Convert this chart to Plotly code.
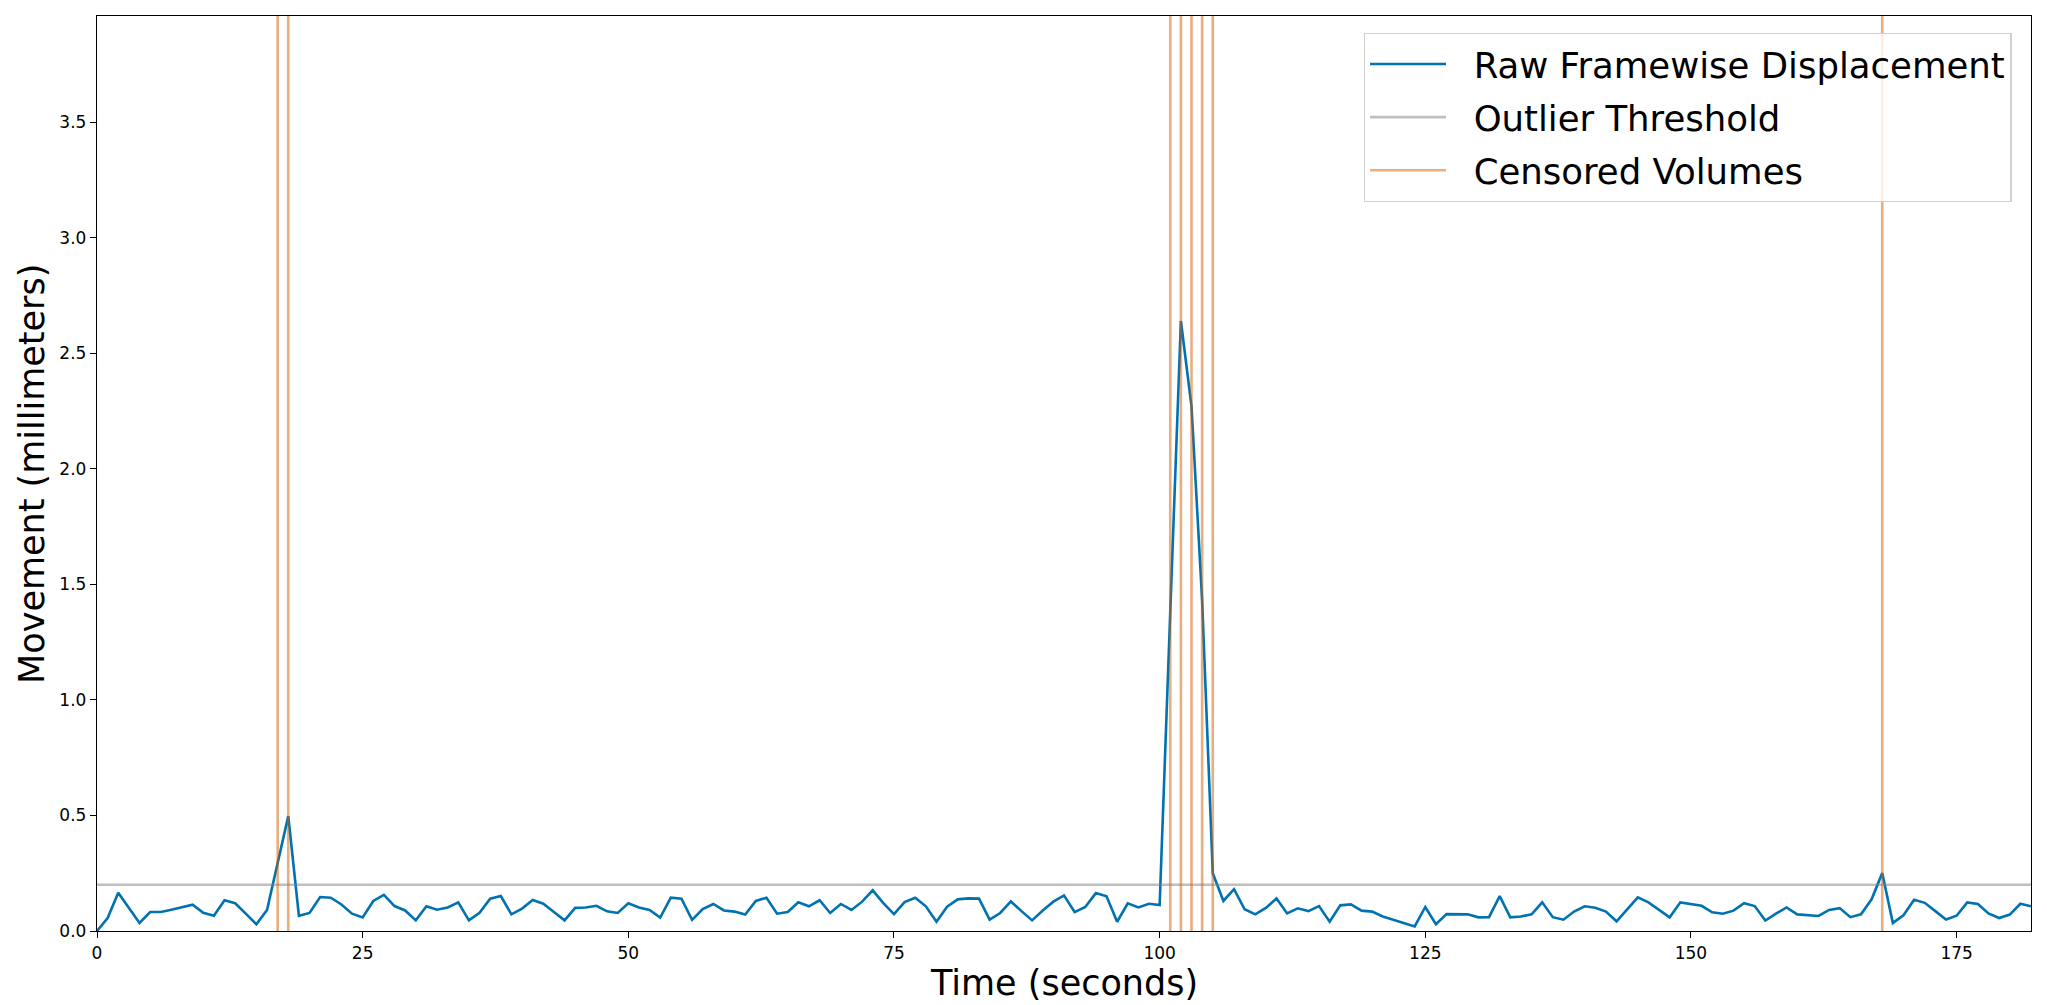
import plotly.graph_objects as go

# ---- data ----
time_seconds = list(range(183))
framewise_displacement = [
    0.0, 0.056, 0.166, 0.10, 0.035, 0.082, 0.082, 0.092, 0.104, 0.114,
    0.079, 0.066, 0.133, 0.12, 0.075, 0.029, 0.091, 0.30, 0.497, 0.066,
    0.078, 0.147, 0.144, 0.115, 0.075, 0.059, 0.13, 0.156, 0.108, 0.089,
    0.046, 0.107, 0.092, 0.102, 0.124, 0.046, 0.079, 0.14, 0.151, 0.072,
    0.097, 0.134, 0.118, 0.082, 0.046, 0.10, 0.102, 0.109, 0.085, 0.078,
    0.12, 0.102, 0.091, 0.058, 0.144, 0.14, 0.048, 0.095, 0.117, 0.089,
    0.084, 0.071, 0.13, 0.144, 0.075, 0.082, 0.124, 0.107, 0.133, 0.078,
    0.117, 0.091, 0.127, 0.176, 0.121, 0.073, 0.125, 0.144, 0.107, 0.04,
    0.105, 0.137, 0.141, 0.14, 0.049, 0.078, 0.128, 0.086, 0.046, 0.089,
    0.127, 0.154, 0.082, 0.104, 0.164, 0.15, 0.04, 0.12, 0.102, 0.118,
    0.112, 1.38, 2.64, 2.27, 1.43, 0.25, 0.13, 0.181, 0.094, 0.072,
    0.10, 0.141, 0.076, 0.098, 0.086, 0.108, 0.04, 0.111, 0.115, 0.088,
    0.084, 0.063, 0.049, 0.032, 0.02, 0.104, 0.029, 0.073, 0.071, 0.072,
    0.059, 0.06, 0.151, 0.059, 0.063, 0.072, 0.124, 0.06, 0.049, 0.084,
    0.107, 0.101, 0.084, 0.042, 0.094, 0.146, 0.124, 0.091, 0.059, 0.124,
    0.118, 0.109, 0.081, 0.075, 0.088, 0.12, 0.108, 0.045, 0.075, 0.102,
    0.072, 0.068, 0.065, 0.091, 0.099, 0.06, 0.072, 0.137, 0.251, 0.035,
    0.068, 0.135, 0.122, 0.086, 0.05, 0.066, 0.124, 0.117, 0.076, 0.056,
    0.071, 0.118, 0.107,
]
outlier_threshold = 0.2
censored_volumes = [17, 18, 101, 102, 103, 104, 105, 168]
x_ticks = [0, 25, 50, 75, 100, 125, 150, 175]
y_ticks = [0.0, 0.5, 1.0, 1.5, 2.0, 2.5, 3.0, 3.5]
series_names = ["Raw Framewise Displacement", "Outlier Threshold", "Censored Volumes"]

# ---- derived limits ----
x_min, x_max = time_seconds[0], time_seconds[-1]
y_max = max(framewise_displacement) * 1.5

FONT = "DejaVu Sans"
BLUE = "#0072B2"
ORANGE = "#D55E00"
GAP = "\u00a0\u00a0"  # extra space between legend handle and label

fig = go.Figure()

fig.add_trace(go.Scatter(
    x=time_seconds, y=framewise_displacement, mode="lines",
    name=GAP + series_names[0], legendgroup="fd",
    line=dict(color=BLUE, width=2.6),
))

fig.add_trace(go.Scatter(
    x=[x_min, x_max], y=[outlier_threshold, outlier_threshold], mode="lines",
    name=GAP + series_names[1], legendgroup="thr",
    line=dict(color="gray", width=2.6), opacity=0.5,
))

cx, cy = [], []
for v in censored_volumes:
    cx += [v, v, None]
    cy += [0, y_max, None]
fig.add_trace(go.Scatter(
    x=cx, y=cy, mode="lines", name=GAP + series_names[2], legendgroup="cens",
    line=dict(color=ORANGE, width=2.6), opacity=0.5,
))

axis_common = dict(
    showline=True, mirror=True, linecolor="black", linewidth=1.4,
    ticks="outside", ticklen=6, tickwidth=1.4, tickcolor="black",
    showgrid=False, zeroline=False,
    tickfont=dict(family=FONT, size=17, color="black"),
)

fig.update_layout(
    width=2047, height=1005,
    margin=dict(l=97, r=16, t=16, b=74),
    plot_bgcolor="white", paper_bgcolor="white",
    xaxis=dict(range=[x_min, x_max], tickvals=x_ticks,
               ticktext=[str(t) for t in x_ticks], **axis_common),
    yaxis=dict(range=[0, y_max], tickvals=y_ticks,
               ticktext=[f"{t:.1f}" for t in y_ticks], **axis_common),
    legend=dict(
        x=0.990, y=0.9814, xanchor="right", yanchor="top",
        font=dict(family=FONT, size=35.5, color="black"),
        bgcolor="rgba(255,255,255,0.8)", bordercolor="#d0d0d0", borderwidth=1.4,
        itemwidth=76, tracegroupgap=4,
    ),
    showlegend=True,
    annotations=[
        dict(text="Time (seconds)", xref="paper", yref="paper",
             x=0.5, y=-0.0568, xanchor="center", yanchor="middle",
             showarrow=False, font=dict(family=FONT, size=35, color="black")),
        dict(text="Movement (millimeters)", xref="paper", yref="paper",
             x=-0.0339, y=0.5, xanchor="center", yanchor="middle",
             textangle=-90, showarrow=False,
             font=dict(family=FONT, size=35, color="black")),
    ],
)

fig.write_html(
    "out.html",
    config={"displayModeBar": False},
    post_script="document.body.style.margin='0';document.body.style.overflow='hidden';",
)
